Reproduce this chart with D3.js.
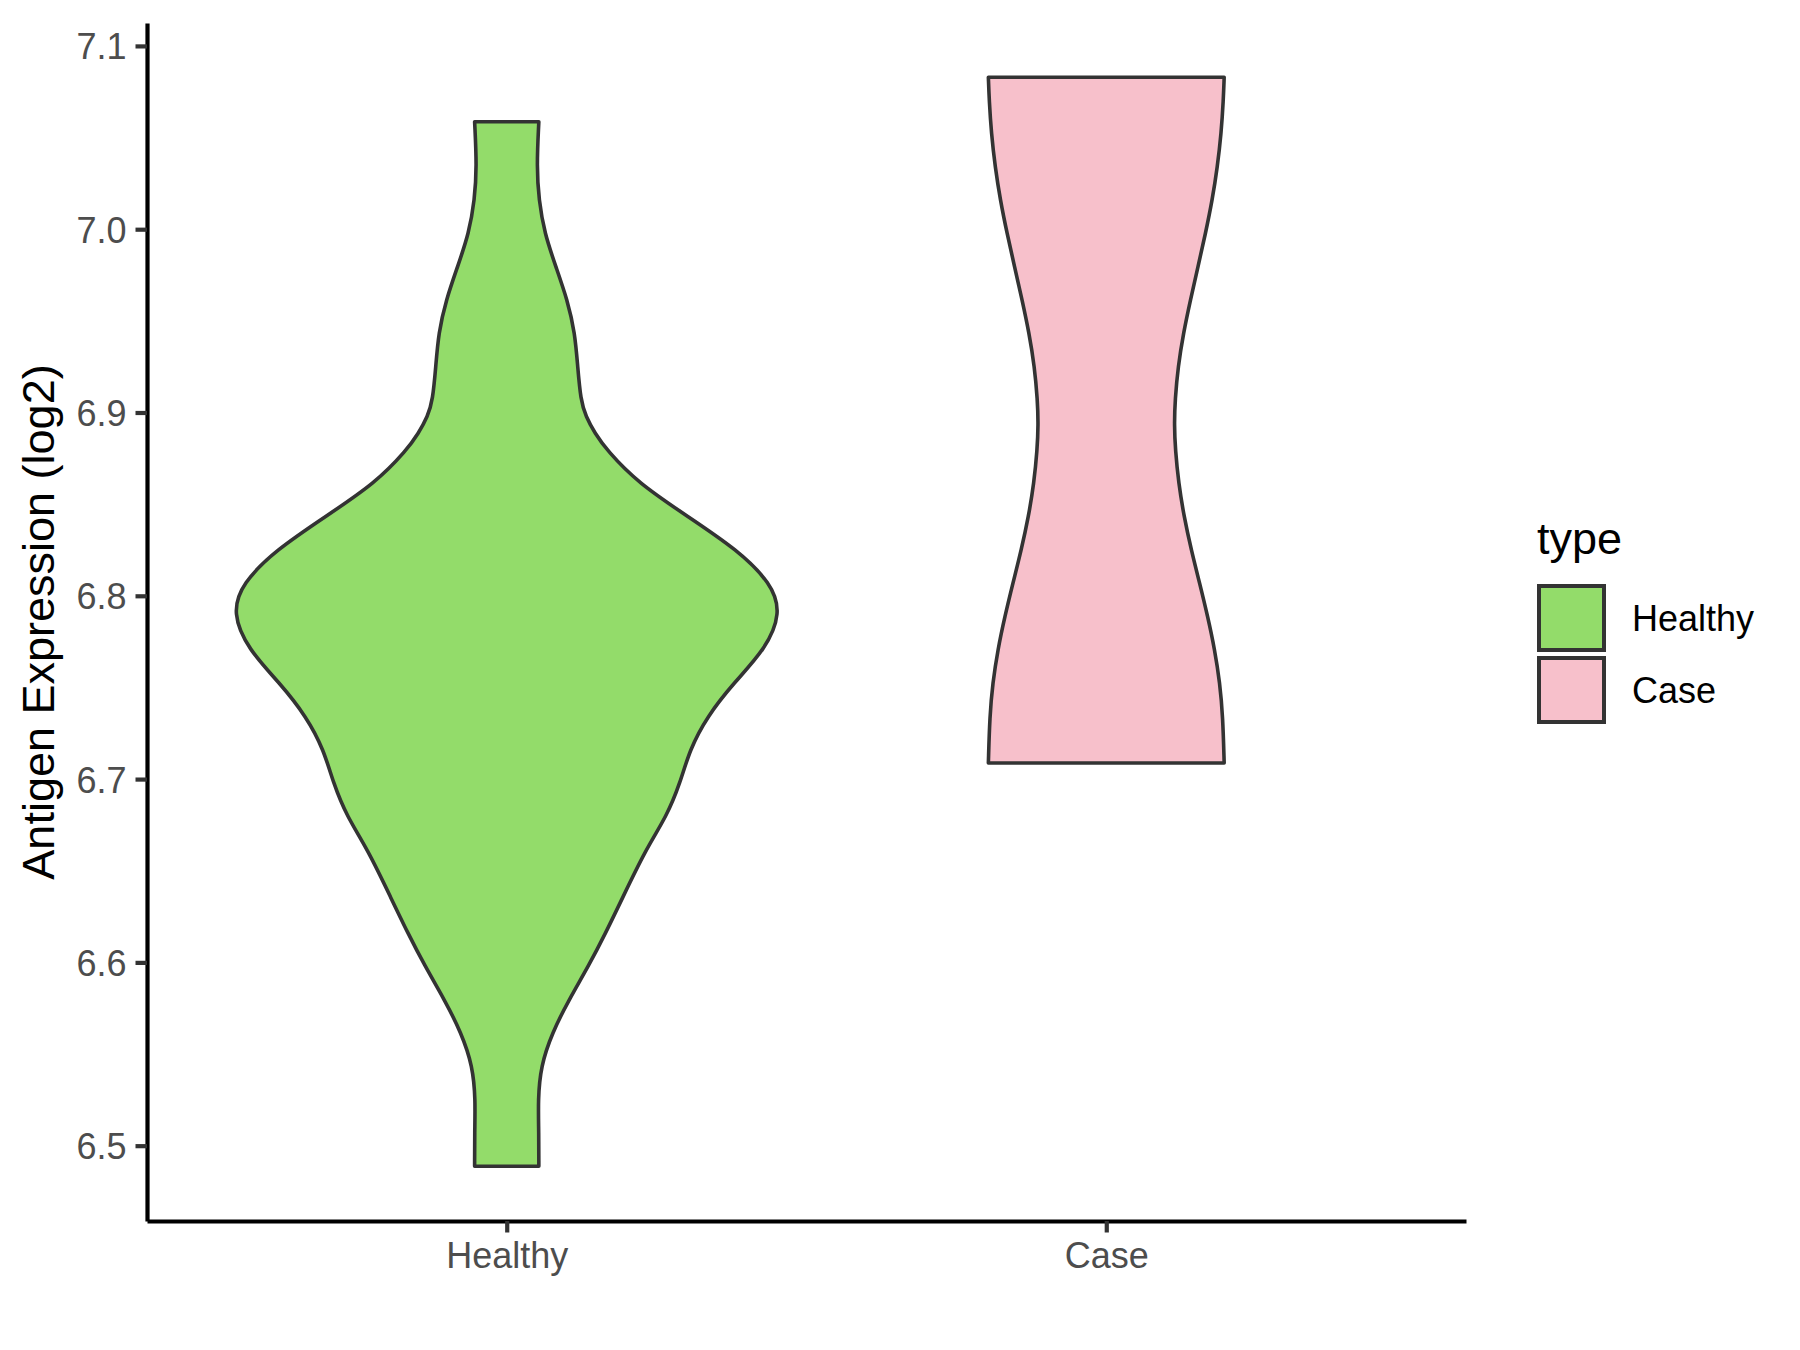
<!DOCTYPE html>
<html>
<head>
<meta charset="utf-8">
<script src="https://cdn.jsdelivr.net/npm/d3@7"></script>
<style>
  html, body { margin: 0; padding: 0; background: #ffffff; }
  svg { display: block; font-family: "Liberation Sans", Arial, Helvetica, sans-serif; }
</style>
</head>
<body>
<svg id="chart" width="1800" height="1350"></svg>
<script>
// ---- data ----
const categories = ["Healthy", "Case"];
const fillColors = ["#93DC6A", "#F7C0CB"];
const yTicks = [6.5, 6.6, 6.7, 6.8, 6.9, 7.0, 7.1];

// violin outline: expression value and relative half-width (1 = widest violin)
const healthyValues = [6.4888, 6.507, 6.5252, 6.5433, 6.5615, 6.5797, 6.5979, 6.6161, 6.6342, 6.6615, 6.6797, 6.6979, 6.716, 6.7342, 6.7524, 6.7706, 6.7906, 6.8069, 6.825, 6.8433, 6.8615, 6.8796, 6.8887, 6.8978, 6.9069, 6.925, 6.9433, 6.9614, 6.9796, 6.9978, 7.016, 7.0341, 7.0586];
const healthyWidths = [0.119, 0.119, 0.116, 0.126, 0.168, 0.231, 0.303, 0.367, 0.426, 0.515, 0.593, 0.643, 0.678, 0.743, 0.841, 0.958, 1.018, 0.980, 0.856, 0.671, 0.487, 0.370, 0.327, 0.293, 0.274, 0.263, 0.253, 0.225, 0.182, 0.140, 0.119, 0.111, 0.119];

const caseValues = [6.7088, 6.7342, 6.7524, 6.7706, 6.7887, 6.8069, 6.825, 6.8433, 6.8615, 6.8796, 6.8934, 6.9069, 6.925, 6.9433, 6.9614, 6.9796, 6.9978, 7.016, 7.0341, 7.0523, 7.0705, 7.0829];
const caseWidths = [0.437, 0.432, 0.421, 0.402, 0.376, 0.346, 0.315, 0.288, 0.268, 0.256, 0.252, 0.255, 0.266, 0.286, 0.312, 0.340, 0.368, 0.393, 0.412, 0.426, 0.434, 0.437];

const yLabel = "Antigen Expression (log2)";
const legendTitle = "type";

// ---- layout ----
const panel = { left: 147, right: 1466, top: 23, bottom: 1221 };
const svg = d3.select("#chart");

const y = d3.scaleLinear().domain([6.4589, 7.1125]).range([panel.bottom, panel.top]);
const x = d3.scalePoint().domain(categories).range([panel.left, panel.right]).padding(0.6);
const w = d3.scaleLinear().domain([0, 1]).range([0, 0.45 * x.step()]);
const color = d3.scaleOrdinal().domain(categories).range(fillColors);

const series = [
  { cat: "Healthy", pts: healthyValues.map((v, i) => ({ v, w: healthyWidths[i] })) },
  { cat: "Case", pts: caseValues.map((v, i) => ({ v, w: caseWidths[i] })) }
];

// violins
series.forEach(s => {
  const cx = x(s.cat);
  const area = d3.area()
    .y(d => y(d.v))
    .x0(d => cx - w(d.w))
    .x1(d => cx + w(d.w))
    .curve(d3.curveBasis);
  svg.append("path")
    .datum(s.pts)
    .attr("d", area)
    .attr("fill", color(s.cat))
    .attr("stroke", "#333333")
    .attr("stroke-width", 3.6)
    .attr("stroke-linejoin", "round");
});

// y axis
const yAxis = svg.append("g")
  .attr("transform", `translate(${panel.left},0)`)
  .call(d3.axisLeft(y).tickValues(yTicks).tickFormat(d3.format(".1f")).tickSize(11.5).tickSizeOuter(0).tickPadding(9));
yAxis.select(".domain").attr("stroke", "#000").attr("stroke-width", 4.2);
yAxis.selectAll(".tick line").attr("stroke", "#333333").attr("stroke-width", 4.2);
yAxis.selectAll(".tick text").attr("fill", "#4d4d4d").attr("font-size", 36).attr("dy", "0.36em")
  .attr("font-family", "'Liberation Sans', Arial, sans-serif");

// x axis
const xAxis = svg.append("g")
  .attr("transform", `translate(0,${panel.bottom})`)
  .call(d3.axisBottom(x).tickSize(11.5).tickSizeOuter(0).tickPadding(10));
xAxis.select(".domain").attr("stroke", "#000").attr("stroke-width", 4.2);
xAxis.selectAll(".tick line").attr("stroke", "#333333").attr("stroke-width", 4.2);
xAxis.selectAll(".tick text").attr("fill", "#4d4d4d").attr("font-size", 36).attr("dy", "0.71em")
  .attr("font-family", "'Liberation Sans', Arial, sans-serif");

// axis title
svg.append("text")
  .attr("transform", `translate(54,${(panel.top + panel.bottom) / 2}) rotate(-90)`)
  .attr("text-anchor", "middle")
  .attr("font-size", 45)
  .attr("fill", "#000")
  .text(yLabel);

// legend
const lg = svg.append("g").attr("transform", "translate(1537,0)");
lg.append("text").attr("x", 0).attr("y", 554).attr("font-size", 45).attr("fill", "#000").text(legendTitle);
categories.forEach((c, i) => {
  const top = 586 + i * 72;
  lg.append("rect")
    .attr("x", 2).attr("y", top).attr("width", 65).attr("height", 64)
    .attr("fill", color(c)).attr("stroke", "#333333").attr("stroke-width", 4);
  lg.append("text")
    .attr("x", 95).attr("y", top + 32).attr("dy", "0.36em")
    .attr("font-size", 36).attr("fill", "#000").text(c);
});
</script>
</body>
</html>
